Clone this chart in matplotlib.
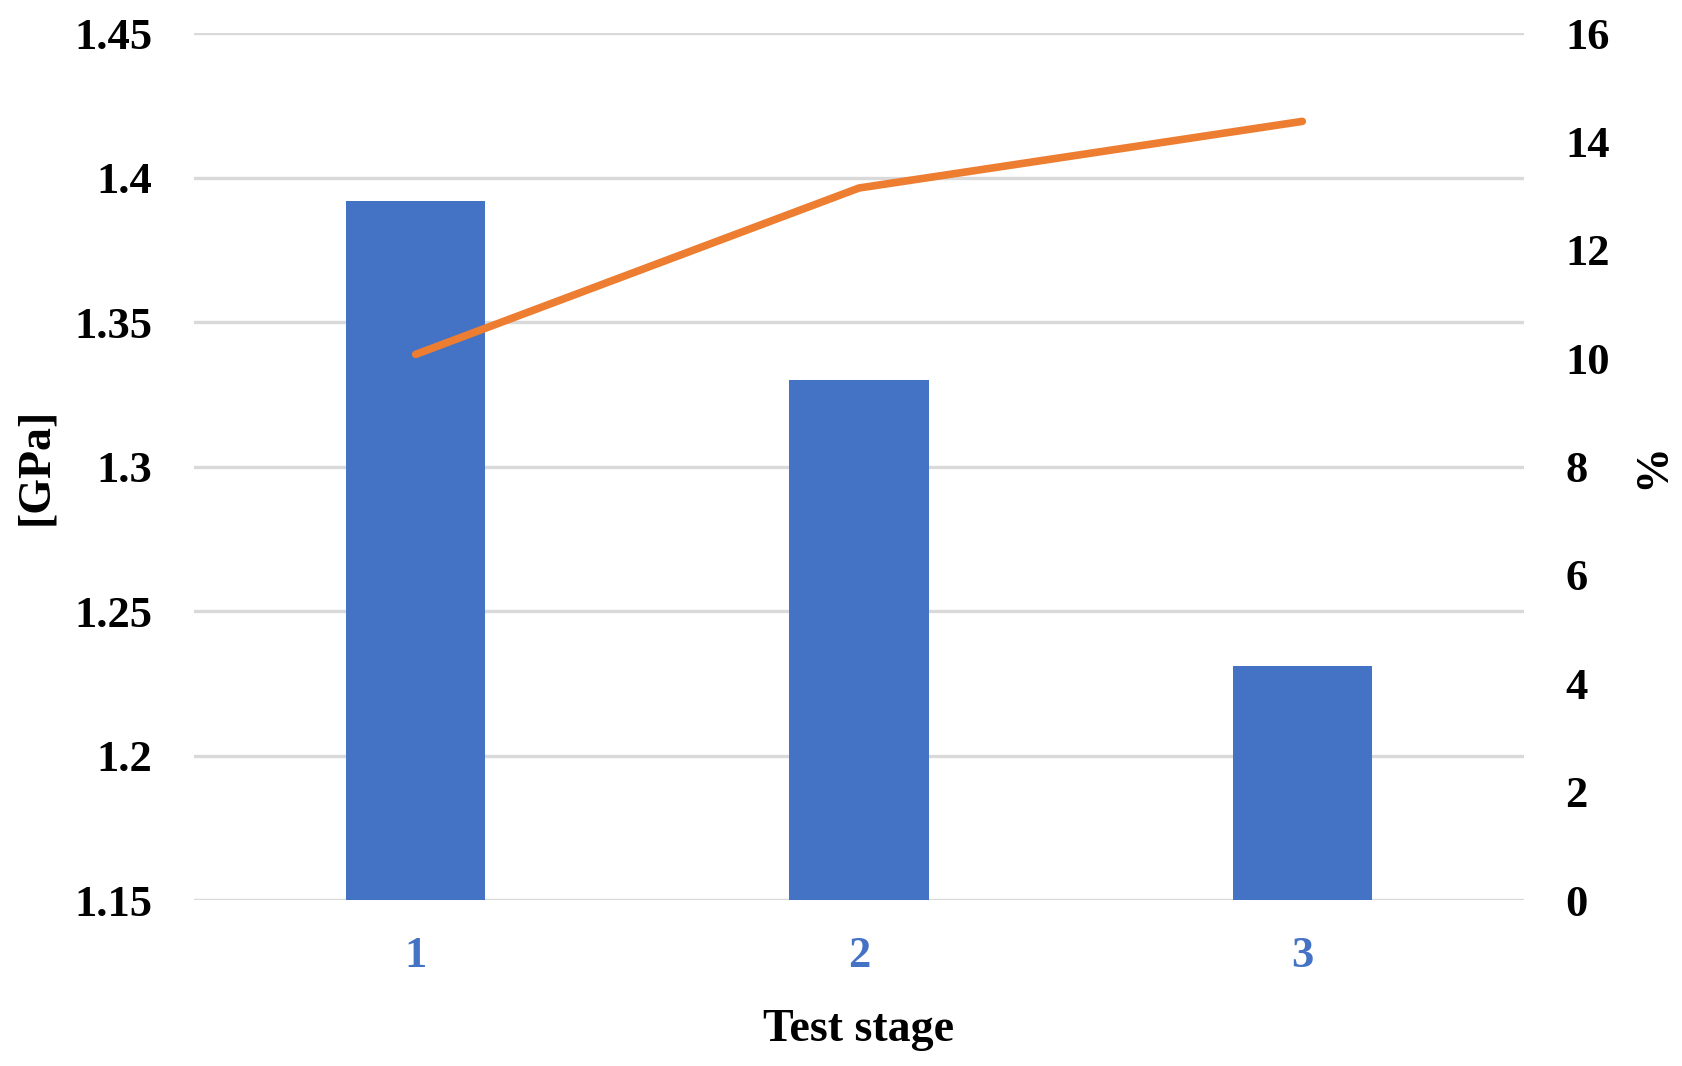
import matplotlib.pyplot as plt
import numpy as np

# Datos
etapas = ["1", "2", "3"]
modulo_gpa = [1.392, 1.330, 1.231]
porcentaje = [10.07, 13.14, 14.37]

plt.rcParams["font.family"] = ["Liberation Serif", "DejaVu Serif"]
plt.rcParams["font.weight"] = "bold"

fig = plt.figure(figsize=(16.83, 10.66), dpi=100)
ax = fig.add_axes([0.1153, 0.1557, 0.7902, 0.8133])
x = np.arange(len(etapas))

ax.bar(x, modulo_gpa, width=0.314, color="#4472C4", zorder=3)
ax.set_ylim(1.15, 1.45)
ax.set_yticks(np.arange(1.15, 1.451, 0.05))
ax.set_yticklabels(["1.15", "1.2", "1.25", "1.3", "1.35", "1.4", "1.45"])
ax.set_xlim(-0.5, 2.5)
ax.set_xticks(x)
ax.set_xticklabels(etapas, color="#4472C4")
ax.grid(axis="y", color="#D9D9D9", linewidth=2.4, zorder=0)
ax.set_axisbelow(True)

ax2 = ax.twinx()
ax2.plot(x, porcentaje, color="#ED7D31", linewidth=5.5, solid_capstyle="round", zorder=4)
ax2.set_ylim(0, 16)
ax2.set_yticks(range(0, 17, 2))

for a in (ax, ax2):
    for s in a.spines.values():
        s.set_visible(False)
    a.tick_params(length=0, labelsize=32)

ax.tick_params(axis="y", pad=30)
ax.tick_params(axis="x", pad=26)
ax2.tick_params(axis="y", pad=30)

ax.set_xlabel("Test stage", fontsize=33, fontweight="bold", labelpad=24)
ax.set_ylabel("[GPa]", fontsize=33, fontweight="bold", labelpad=12)
ax2.set_ylabel("%", fontsize=33, fontweight="bold", labelpad=16)

fig.savefig("out.png", dpi=100)
